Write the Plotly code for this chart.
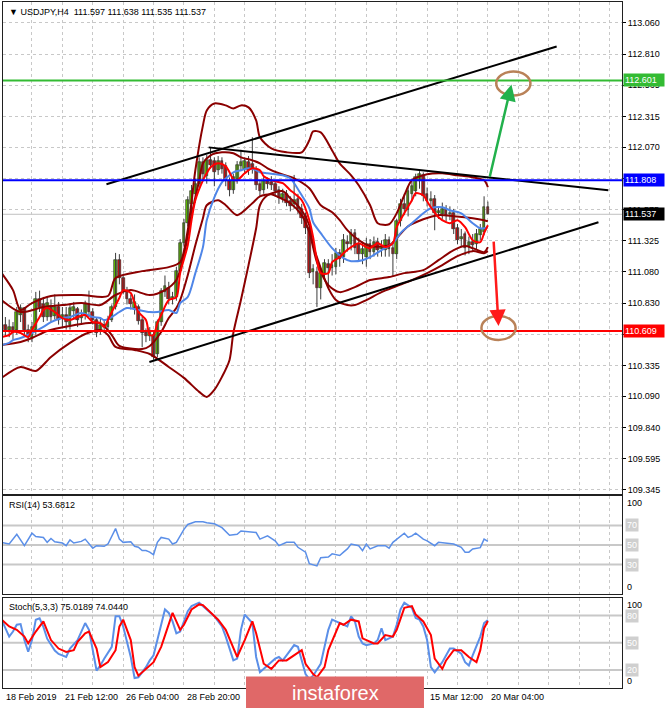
import plotly.graph_objects as go

# ---------------- data ----------------
bar_index = list(range(129))
opens = [110.64,110.66,110.62,110.64,110.62,110.74,110.79,110.62,110.55,110.62,
         110.86,110.82,110.72,110.81,110.73,110.80,110.71,110.74,110.66,110.77,
         110.78,110.71,110.74,110.82,110.76,110.70,110.62,110.66,110.64,110.70,
         110.80,111.17,111.03,110.93,110.86,110.79,110.80,110.70,110.60,110.57,
         110.58,110.43,110.68,110.92,110.95,110.86,110.88,111.09,111.31,111.47,
         111.62,111.70,111.78,111.95,111.84,111.97,111.96,111.89,111.96,111.92,
         111.80,111.73,111.82,111.92,111.90,111.95,111.94,111.89,111.78,111.73,
         111.80,111.79,111.78,111.73,111.67,111.70,111.64,111.62,111.66,111.58,
         111.52,111.43,111.08,111.08,110.95,111.06,111.14,111.11,111.12,111.23,
         111.20,111.32,111.30,111.39,111.30,111.22,111.20,111.30,111.24,111.32,
         111.26,111.25,111.33,111.27,111.22,111.48,111.62,111.57,111.70,111.72,
         111.80,111.85,111.70,111.64,111.66,111.55,111.54,111.58,111.54,111.55,
         111.43,111.34,111.38,111.28,111.32,111.30,111.37,111.40,111.597]
highs = [110.70,110.72,110.70,110.68,110.80,110.82,110.80,110.66,110.68,110.92,
         110.93,110.88,110.88,110.86,110.90,110.84,110.80,110.80,110.82,110.84,
         110.80,110.78,110.85,110.93,110.79,110.72,110.72,110.70,110.73,110.82,
         111.23,111.22,111.05,110.96,110.90,110.90,110.82,110.72,110.63,110.64,
         110.60,110.70,110.95,111.05,111.00,110.92,111.12,111.34,111.50,111.68,
         111.77,111.82,111.99,111.99,112.01,112.07,111.99,112.00,111.99,111.95,
         111.83,111.86,111.96,112.05,111.99,112.00,112.15,111.92,111.81,111.84,
         111.83,111.84,111.80,111.76,111.74,111.73,111.68,111.85,111.70,111.62,
         111.55,111.46,111.14,111.12,111.10,111.18,111.18,111.22,111.27,111.26,
         111.38,111.37,111.42,111.42,111.35,111.32,111.35,111.34,111.36,111.35,
         111.33,111.38,111.36,111.32,111.50,111.66,111.70,111.76,111.80,111.86,
         111.88,111.87,111.75,111.72,111.69,111.60,111.63,111.61,111.60,111.58,
         111.46,111.42,111.40,111.36,111.38,111.42,111.46,111.68,111.638]
lows = [110.58,110.57,110.56,110.54,110.58,110.68,110.58,110.52,110.52,110.58,
        110.76,110.68,110.69,110.68,110.70,110.66,110.64,110.62,110.62,110.70,
        110.64,110.67,110.70,110.72,110.66,110.56,110.58,110.60,110.61,110.68,
        110.78,110.98,110.90,110.82,110.78,110.74,110.66,110.48,110.52,110.53,
        110.38,110.40,110.65,110.88,110.82,110.82,110.85,111.06,111.28,111.44,
        111.52,111.63,111.75,111.80,111.78,111.90,111.76,111.85,111.86,111.76,
        111.68,111.70,111.78,111.88,111.86,111.85,111.86,111.73,111.68,111.70,
        111.74,111.73,111.68,111.62,111.63,111.60,111.56,111.58,111.54,111.46,
        111.38,111.03,110.98,110.80,110.86,111.02,110.96,111.05,111.06,111.12,
        111.15,111.24,111.25,111.22,111.16,111.14,111.12,111.18,111.20,111.20,
        111.20,111.20,111.20,111.04,111.18,111.44,111.53,111.52,111.64,111.68,
        111.74,111.64,111.60,111.58,111.41,111.50,111.50,111.48,111.49,111.38,
        111.30,111.28,111.21,111.22,111.24,111.26,111.33,111.37,111.535]
closes = [110.66,110.62,110.64,110.60,110.76,110.79,110.62,110.56,110.64,110.86,
          110.80,110.72,110.83,110.72,110.80,110.70,110.74,110.68,110.79,110.80,
          110.70,110.73,110.82,110.76,110.70,110.59,110.66,110.64,110.68,110.80,
          111.17,111.03,110.93,110.86,110.82,110.84,110.69,110.59,110.57,110.60,
          110.40,110.68,110.93,110.97,110.86,110.88,111.09,111.31,111.47,111.65,
          111.72,111.78,111.95,111.86,111.97,111.93,111.87,111.96,111.90,111.80,
          111.73,111.83,111.93,111.95,111.96,111.89,111.90,111.77,111.72,111.80,
          111.78,111.77,111.72,111.67,111.70,111.63,111.60,111.65,111.58,111.51,
          111.43,111.07,111.10,110.95,111.07,111.15,111.11,111.13,111.23,111.18,
          111.33,111.30,111.39,111.27,111.22,111.26,111.30,111.24,111.32,111.25,
          111.28,111.33,111.26,111.22,111.48,111.62,111.58,111.72,111.76,111.83,
          111.86,111.68,111.64,111.66,111.55,111.56,111.58,111.53,111.55,111.42,
          111.33,111.36,111.27,111.32,111.29,111.38,111.42,111.597,111.537]

x_label_bars = [0, 16, 32, 48, 112, 128]
x_labels = ["18 Feb 2019", "21 Feb 12:00", "26 Feb 04:00", "28 Feb 20:00",
            "15 Mar 12:00", "20 Mar 04:00"]

price_ticks = [113.060, 112.810, 112.565, 112.315, 112.070, 111.825, 111.575,
               111.325, 111.080, 110.830, 110.585, 110.335, 110.090, 109.840,
               109.595, 109.345]

# Bollinger-type bands (dark red)
bb_upper_x = [0,3,5,8,13,21,28,30,37,44,47,49,51,53,54,56,59,61,63,65,67,68,71,75,79,81,
              82,84,87,89,92,94,97,99,102,104,106,108,112,116,120,124,127,128]
bb_upper = [111.069,110.934,110.776,110.831,110.887,110.895,110.887,111.030,111.085,111.117,
            111.157,111.411,111.887,112.244,112.363,112.418,112.403,112.379,112.403,112.387,
            112.284,112.149,112.061,112.030,112.030,112.125,112.196,112.188,112.045,111.942,
            111.847,111.768,111.609,111.466,111.458,111.545,111.688,111.807,111.855,111.863,
            111.847,111.831,111.807,111.752]
bb_lower_x = [0,5,9,13,18,22,26,28,30,35,39,44,48,52,54,56,58,60,61,63,65,67,68,70,74,76,
              79,81,82,84,86,88,91,93,96,100,104,108,112,116,120,124,127,128]
bb_lower = [110.236,110.323,110.291,110.403,110.514,110.585,110.617,110.577,110.482,110.458,
            110.426,110.323,110.236,110.125,110.085,110.141,110.244,110.379,110.593,110.855,
            111.133,111.426,111.609,111.688,111.720,111.664,111.569,111.450,111.291,111.109,
            110.950,110.855,110.815,110.815,110.855,110.918,110.966,111.014,111.069,111.133,
            111.204,111.244,111.228,111.244]
env_upper_x = [0,5,11,16,21,26,30,34,39,43,46,48,50,52,53,55,58,61,63,66,68,70,73,77,81,84,
               87,89,91,94,97,102,104,107,111,115,119,124,127,128]
env_upper = [110.855,110.760,110.799,110.815,110.831,110.815,110.895,110.934,110.895,110.934,
             111.014,111.212,111.530,111.807,111.942,112.006,112.030,112.022,111.990,111.966,
             111.942,111.903,111.863,111.823,111.744,111.609,111.553,111.490,111.411,111.331,
             111.284,111.291,111.347,111.442,111.498,111.530,111.522,111.506,111.490,111.482]
env_lower_x = [0,5,8,12,18,23,26,29,31,37,39,42,44,46,47,49,51,53,54,57,59,62,66,68,71,73,
               76,79,81,83,86,89,93,97,102,106,111,115,119,122,124,127,128]
env_lower = [110.498,110.522,110.553,110.609,110.649,110.672,110.672,110.577,110.490,110.466,
             110.490,110.601,110.712,110.791,110.855,111.053,111.291,111.506,111.609,111.649,
             111.609,111.530,111.625,111.680,111.696,111.672,111.625,111.530,111.395,111.157,
             110.974,110.918,110.958,111.014,111.038,111.069,111.093,111.172,111.252,111.284,
             111.268,111.236,111.276]

# moving averages
ma_fast_x = [0,2,3,5,7,8,10,11,12,14,16,18,20,22,24,26,27,28,29,31,32,34,35,36,38,39,40,
             41,42,44,46,47,49,50,51,53,54,55,57,59,60,61,62,64,66,68,69,71,74,76,77,79,
             81,82,83,84,86,87,89,90,92,94,96,97,99,101,103,104,106,108,109,111,112,113,
             115,117,118,120,122,124,126,127,128]
ma_fast = [110.561,110.577,110.601,110.593,110.561,110.617,110.720,110.776,110.791,110.760,
           110.712,110.696,110.720,110.736,110.680,110.672,110.641,110.696,110.760,110.871,
           110.934,110.911,110.831,110.760,110.696,110.577,110.577,110.672,110.736,110.855,
           110.879,111.069,111.291,111.490,111.649,111.807,111.863,111.911,111.942,111.918,
           111.871,111.815,111.807,111.863,111.903,111.887,111.839,111.807,111.784,111.728,
           111.704,111.649,111.490,111.355,111.170,111.069,111.069,111.157,111.196,111.228,
           111.276,111.307,111.276,111.268,111.307,111.276,111.307,111.434,111.545,111.649,
           111.704,111.688,111.640,111.593,111.514,111.474,111.466,111.490,111.434,111.331,
           111.315,111.387,111.450]
ma_slow_x = [0,2,3,5,8,11,13,16,18,21,24,26,27,29,31,33,36,39,41,44,46,47,49,51,53,54,56,
             58,60,61,63,65,67,68,70,72,74,76,77,79,81,82,84,87,90,92,95,97,100,103,105,
             108,111,113,116,118,121,124,126,127,128]
ma_slow = [110.498,110.514,110.537,110.553,110.593,110.641,110.680,110.712,110.720,110.752,
           110.720,110.712,110.696,110.720,110.760,110.791,110.776,110.760,110.760,110.776,
           110.752,110.831,110.879,111.069,111.276,111.490,111.672,111.791,111.847,111.871,
           111.887,111.903,111.887,111.871,111.863,111.855,111.847,111.823,111.784,111.688,
           111.585,111.474,111.387,111.268,111.188,111.164,111.172,111.196,111.252,111.307,
           111.387,111.466,111.545,111.585,111.593,111.569,111.545,111.466,111.426,111.426,
           111.434]

# RSI(14)
rsi_x = [0,2,4,6,8,9,11,12,13,14,16,17,18,19,21,22,24,25,27,28,30,31,32,34,35,36,37,38,
         39,40,41,42,44,45,46,48,49,51,53,54,56,58,60,62,63,65,67,68,70,72,73,75,77,78,
         80,81,83,84,86,87,89,90,91,92,94,95,96,97,99,101,102,103,105,106,107,108,109,
         111,112,114,115,117,119,121,122,123,124,126,127,128]
rsi = [52.7,51.0,61.0,49.3,62.0,58.7,57.7,52.7,56.7,53.3,52.0,49.3,55.3,52.0,53.7,56.0,
       46.7,49.3,48.7,51.0,66.7,56.0,52.7,53.3,48.7,47.7,44.3,44.3,42.7,40.0,52.7,57.7,
       56.0,51.0,52.7,66.0,71.0,73.7,73.7,72.7,71.7,67.7,60.0,61.0,64.3,63.3,62.7,56.0,
       59.3,54.3,49.3,52.7,52.7,47.7,42.7,31.0,28.7,37.0,37.7,41.0,39.3,42.7,46.0,51.0,
       49.3,44.3,51.0,46.0,49.3,49.3,46.7,52.7,59.3,62.0,57.7,59.3,62.0,56.0,54.3,49.3,
       52.7,52.0,51.0,47.7,42.7,42.7,46.0,47.3,56.0,53.6812]

# Stochastic(5,3,3)
stoch_main_x = [0,2,3,4,5,6,7,8,9,10,11,12,14,15,17,18,20,22,23,24,25,26,27,29,30,31,32,
                34,35,36,38,39,40,41,43,44,45,46,47,49,50,52,53,55,56,58,59,61,62,63,64,66,
                67,68,70,72,73,74,75,77,78,79,80,81,82,84,85,86,87,89,90,91,92,93,94,95,96,
                98,99,100,101,103,104,105,106,108,109,110,111,112,113,114,116,118,119,121,
                122,123,124,126,127,128]
stoch_main = [75.5,56.8,62.4,69.9,70.6,53.0,40.0,53.0,75.5,77.0,67.6,54.5,41.4,37.6,34.3,
              43.6,53.0,71.8,64.3,43.6,19.3,24.9,32.4,45.5,79.3,79.3,68.0,34.3,11.0,11.8,
              23.0,30.5,36.1,53.0,86.8,83.0,73.6,60.5,62.4,84.9,90.5,94.3,90.5,83.0,79.3,
              68.0,56.8,30.5,32.4,64.3,81.1,71.8,34.3,17.4,24.9,32.4,34.3,30.5,36.1,47.4,
              45.5,30.5,15.5,9.9,13.6,26.8,45.5,64.3,75.5,71.8,69.9,68.0,79.3,73.6,56.8,
              49.3,47.4,49.3,53.0,66.1,53.0,56.8,69.9,86.8,94.3,88.6,77.4,75.5,68.0,53.0,
              23.0,17.4,28.6,43.6,43.6,38.0,28.6,24.9,36.1,56.8,71.8,75.0189]
stoch_signal_x = [0,2,4,6,7,9,11,12,13,15,17,19,20,22,23,25,26,28,30,31,32,34,35,36,38,40,
                  42,44,45,47,48,50,52,53,55,57,59,61,62,64,66,67,69,71,73,75,77,79,80,82,
                  83,85,86,89,90,92,94,95,98,99,101,103,104,106,108,109,111,113,114,116,117,
                  119,121,123,125,126,127,128]
stoch_signal = [75.5,68.0,64.3,56.8,49.3,62.4,73.6,64.3,53.0,43.6,39.9,41.8,51.1,60.5,62.4,
                43.6,23.0,28.6,41.8,68.0,75.5,53.0,23.0,13.6,21.1,28.6,45.5,71.8,83.0,64.3,
                69.9,86.8,92.4,91.6,83.0,75.5,64.3,43.6,34.3,53.0,73.6,60.5,26.8,21.1,30.5,
                30.5,36.1,41.8,26.8,15.5,11.8,23.0,41.8,71.8,69.9,75.5,73.6,54.9,49.3,49.3,
                58.6,56.8,64.3,88.6,90.5,81.1,73.6,58.6,32.4,21.1,30.5,41.8,41.8,34.3,28.6,
                41.8,66.1,74.0440]

# horizontal levels
level_target_up = 112.601
level_pivot = 111.808
level_target_down = 110.609

# trend lines (bar index, price)
channel_upper_x, channel_upper_y = [27.6, 146.1], [111.776, 112.871]
channel_lower_x, channel_lower_y = [38.9, 157.1], [110.363, 111.474]
trend_down_x, trend_down_y = [54.5, 159.7], [112.069, 111.728]

# scenario arrows: tail (bar, price) -> head (bar, price)
arrow_up_tail, arrow_up_head = (128.4, 111.823), (134.2, 112.569)
arrow_down_tail, arrow_down_head = (129.5, 111.331), (130.8, 110.649)
target_up_center = (134.7, 112.577)
target_down_center = (130.8, 110.633)

# ---------------- figure ----------------
FONT = "Liberation Sans, Arial, sans-serif"
DARKRED = "#8b0000"
BLUE_MA = "#4f86e8"
GRID = "#c8c8c8"
X_RANGE = [0.37, 163.3]

fig = go.Figure()

wx, wy = [], []
for i, h, l in zip(bar_index, highs, lows):
    wx += [i, i, None]
    wy += [l, h, None]
fig.add_trace(go.Scatter(x=wx, y=wy, mode="lines", line=dict(color="#3c3c3c", width=1),
                         xaxis="x", yaxis="y", hoverinfo="skip"))
heights = [c - o for o, c in zip(opens, closes)]
colors = ["#66cc00" if c >= o else "#e01010" for o, c in zip(opens, closes)]
fig.add_trace(go.Bar(x=bar_index, y=heights, base=opens, width=0.72,
                     marker=dict(color=colors, line=dict(color="#1a1a1a", width=0.6)),
                     xaxis="x", yaxis="y"))

def line(x, y, color, width=2, shape="spline", ax="x", ay="y"):
    fig.add_trace(go.Scatter(x=x, y=y, mode="lines",
                             line=dict(color=color, width=width, shape=shape,
                                       smoothing=0.8 if shape == "spline" else None),
                             xaxis=ax, yaxis=ay, hoverinfo="skip"))

line(bb_upper_x, bb_upper, DARKRED)
line(bb_lower_x, bb_lower, DARKRED)
line(env_upper_x, env_upper, DARKRED)
line(env_lower_x, env_lower, DARKRED)
line(ma_slow_x, ma_slow, BLUE_MA, 2)
line(ma_fast_x, ma_fast, "#ff0000", 2)

line(channel_upper_x, channel_upper_y, "#000000", 2, "linear")
line(channel_lower_x, channel_lower_y, "#000000", 2, "linear")
line(trend_down_x, trend_down_y, "#000000", 2, "linear")

line(rsi_x, rsi, "#5b8fe8", 1.5, "linear", "x2", "y2")
line(stoch_main_x, stoch_main, "#5b8fe8", 2, "linear", "x3", "y3")
line(stoch_signal_x, stoch_signal, "#ff0000", 2, "linear", "x3", "y3")

shapes = []
for v in (70, 50, 30):
    shapes.append(dict(type="line", xref="x2 domain", x0=0, x1=1, yref="y2", y0=v, y1=v,
                       line=dict(color=GRID, width=2), layer="below"))
for v in (80, 50, 20):
    shapes.append(dict(type="line", xref="x3 domain", x0=0, x1=1, yref="y3", y0=v, y1=v,
                       line=dict(color=GRID, width=2), layer="below"))
shapes.append(dict(type="line", xref="x domain", x0=0, x1=1, yref="y",
                   y0=closes[-1], y1=closes[-1], line=dict(color="#c0c0c0", width=1),
                   layer="below"))
for v, c in ((level_target_up, "#33bb33"), (level_pivot, "#0000ff"),
             (level_target_down, "#ff0000")):
    shapes.append(dict(type="line", xref="x domain", x0=0, x1=1, yref="y", y0=v, y1=v,
                       line=dict(color=c, width=2), layer="above"))
for (cx, cy) in (target_up_center, target_down_center):
    shapes.append(dict(type="circle", xref="x", yref="y", x0=cx - 4.5, x1=cx + 4.5,
                       y0=cy - 0.095, y1=cy + 0.095,
                       line=dict(color="#b98258", width=2.5), layer="above"))
shapes.append(dict(type="rect", xref="paper", yref="paper", x0=0.3926, x1=0.6801,
                   y0=-0.03, y1=0.0168, fillcolor="#e06868", line=dict(width=0),
                   layer="above"))

ann = []
small = dict(family=FONT, size=9, color="#000000")
ann.append(dict(xref="paper", yref="paper", x=0, y=1, xanchor="left", yanchor="top",
                xshift=4, yshift=-3, showarrow=False, font=small,
                text="▼ USDJPY,H4  %.3f %.3f %.3f %.3f" % (opens[-1], highs[-1], lows[-1], closes[-1])))
ann.append(dict(xref="paper", yref="y2 domain", x=0, y=1, xanchor="left", yanchor="top",
                xshift=4, yshift=-2, showarrow=False, font=small,
                text="RSI(14) %.4f" % rsi[-1]))
ann.append(dict(xref="paper", yref="y3 domain", x=0, y=1, xanchor="left", yanchor="top",
                xshift=4, yshift=-2, showarrow=False, font=small,
                text="Stoch(5,3,3) %.4f %.4f" % (stoch_main[-1], stoch_signal[-1])))

for v, bg in ((level_target_up, "#33bb33"), (level_pivot, "#0000ff"),
              (closes[-1], "#000000"), (level_target_down, "#ff0000")):
    ann.append(dict(xref="paper", yref="y", x=1, y=v, xanchor="left", yanchor="middle",
                    xshift=1, showarrow=False, text="%.3f" % v, bgcolor=bg,
                    width=38, align="left", borderpad=1,
                    font=dict(family=FONT, size=9, color="#ffffff")))

def side_label(ref, v, yanchor="middle", boxed=False):
    d = dict(xref="paper", yref=ref, x=1, y=v, xanchor="left", yanchor=yanchor, xshift=3,
             showarrow=False, text=str(v), font=dict(family=FONT, size=9, color="#000000"))
    if boxed:
        d["bgcolor"] = "#cfcfcf"
        d["font"] = dict(family=FONT, size=9, color="#ffffff")
        d["borderpad"] = 1
    ann.append(d)

side_label("y2", 100, "top")
side_label("y2", 0, "bottom")
for v in (70, 50, 30):
    side_label("y2", v, boxed=True)
side_label("y3", 100, "top")
side_label("y3", 0, "bottom")
for v in (80, 50, 20):
    side_label("y3", v, boxed=True)

for b, t in zip(x_label_bars, x_labels):
    ann.append(dict(xref="x3", yref="paper", x=max(b, X_RANGE[0] + 0.05), y=-0.0131,
                    xanchor="left", yanchor="middle", xshift=1, showarrow=False,
                    text=t, font=small))

for tail, head, col in ((arrow_up_tail, arrow_up_head, "#22b14c"),
                        (arrow_down_tail, arrow_down_head, "#ff1a1a")):
    ann.append(dict(xref="x", yref="y", axref="x", ayref="y", x=head[0], y=head[1],
                    ax=tail[0], ay=tail[1], showarrow=True, arrowhead=2, arrowsize=1.3,
                    arrowwidth=2.5, arrowcolor=col, text=""))

ann.append(dict(xref="paper", yref="paper", x=0.5364, y=-0.0066, xanchor="center",
                yanchor="middle", showarrow=False, text="instaforex",
                font=dict(family=FONT, size=20, color="#ffffff")))

xcommon = dict(range=X_RANGE, showgrid=True, gridcolor=GRID, griddash="3px,3px",
               gridwidth=1, dtick=8, tick0=0, showticklabels=False, ticks="",
               showline=True, mirror=True, linecolor="#202020", linewidth=1,
               zeroline=False)

fig.update_layout(
    width=665, height=708,
    margin=dict(l=3, r=43, t=2, b=20),
    paper_bgcolor="#ffffff", plot_bgcolor="#ffffff",
    showlegend=False,
    xaxis=dict(domain=[0, 1], anchor="y", **xcommon),
    xaxis2=dict(domain=[0, 1], anchor="y2", matches="x", **xcommon),
    xaxis3=dict(domain=[0, 1], anchor="y3", matches="x", **xcommon),
    yaxis=dict(domain=[0.2821, 1], anchor="x", range=[109.309, 113.225], side="right",
               tickvals=price_ticks, ticktext=["%.3f" % v for v in price_ticks],
               showgrid=True, gridcolor=GRID, griddash="3px,3px", ticks="outside",
               ticklen=3, tickcolor="#000000", tickfont=small, showline=True,
               mirror=True, linecolor="#202020", linewidth=1, zeroline=False),
    yaxis2=dict(domain=[0.1370, 0.2799], anchor="x2", range=[0, 100], showgrid=False,
                showticklabels=False, showline=True, mirror=True, linecolor="#202020",
                linewidth=1, zeroline=False),
    yaxis3=dict(domain=[0, 0.1319], anchor="x3", range=[0, 100], showgrid=False,
                showticklabels=False, showline=True, mirror=True, linecolor="#202020",
                linewidth=1, zeroline=False),
    shapes=shapes,
    annotations=ann,
    bargap=0,
)

fig.write_html("out.html", config={"displayModeBar": False},
               post_script="document.body.style.margin='0px';document.body.style.overflow='hidden';")
